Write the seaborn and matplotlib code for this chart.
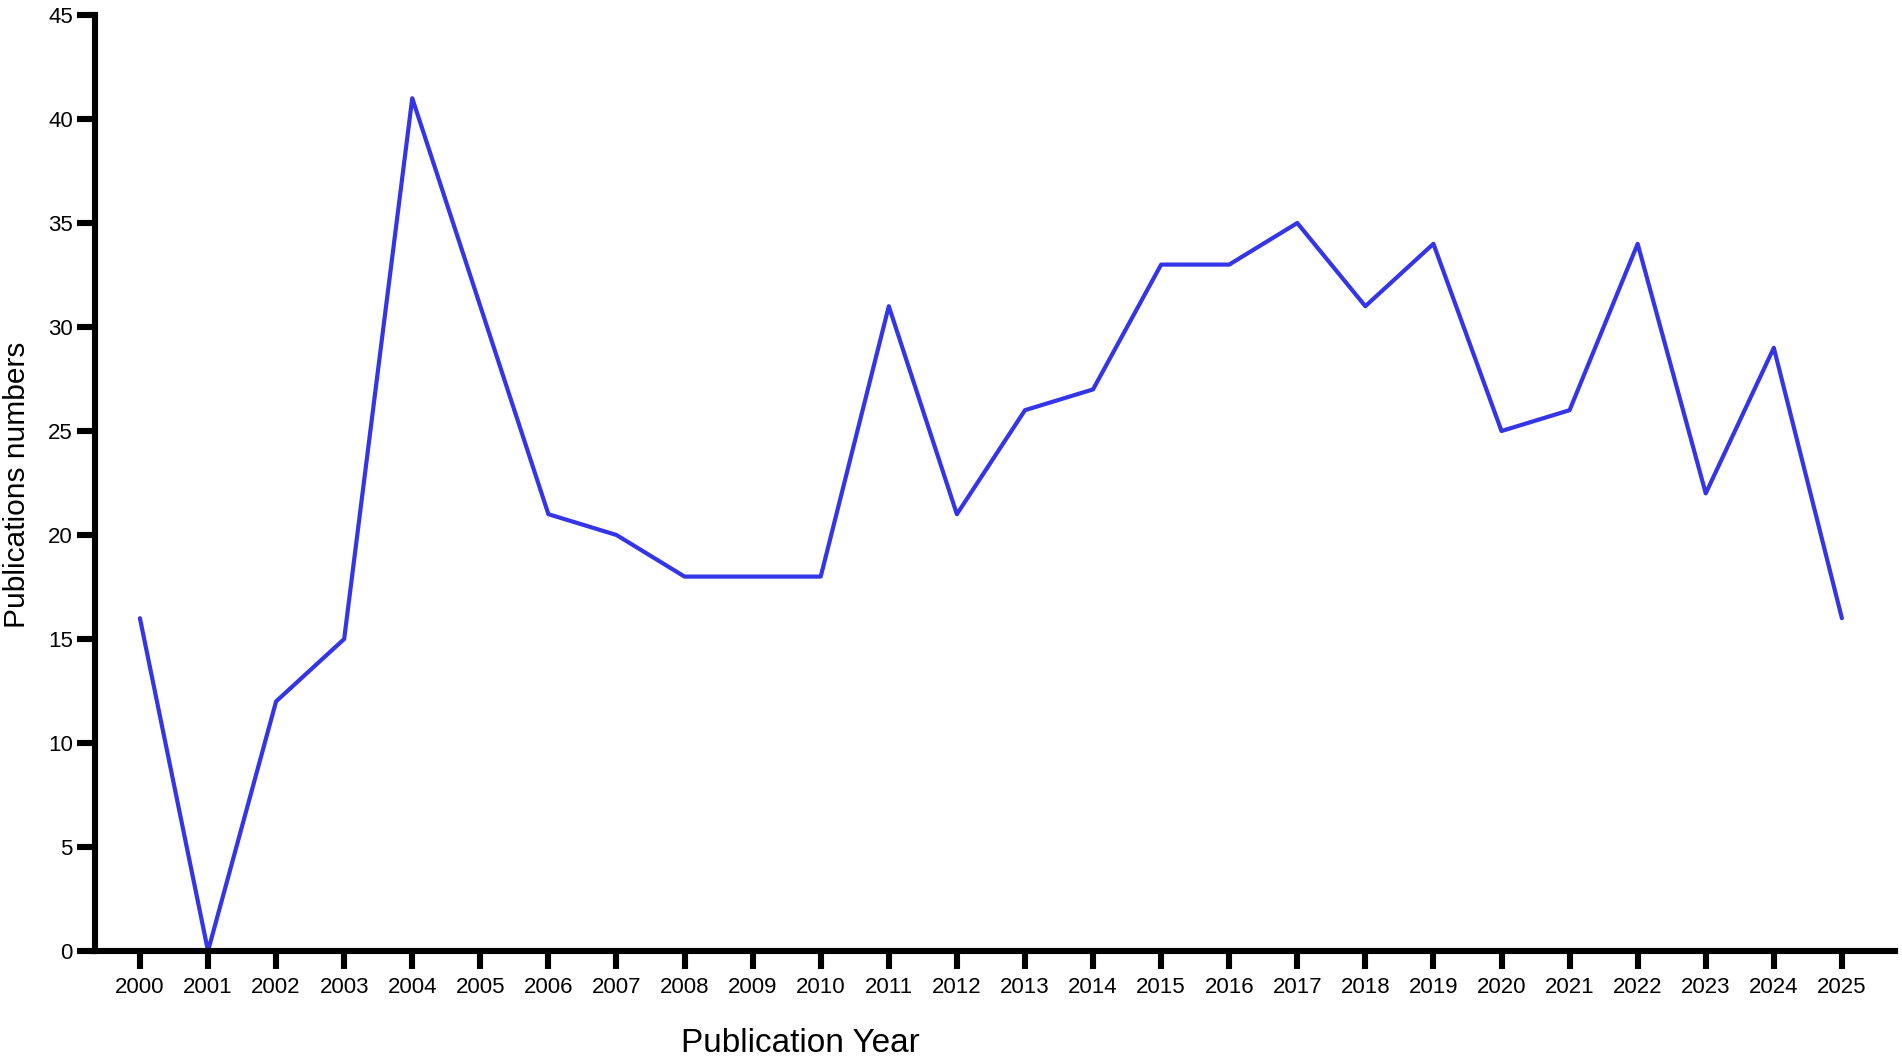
import matplotlib
matplotlib.use("Agg")
import matplotlib.pyplot as plt
import seaborn as sns
import pandas as pd

# Data
years = list(range(2000, 2026))
publications = [16, 0, 12, 15, 41, 31, 21, 20, 18, 18, 18, 31, 21, 26, 27,
                33, 33, 35, 31, 34, 25, 26, 34, 22, 29, 16]
y_ticks = [0, 5, 10, 15, 20, 25, 30, 35, 40, 45]

df = pd.DataFrame({"year": years, "count": publications})

sns.set_style("white")
plt.rcParams['font.family'] = ['Liberation Sans', 'DejaVu Sans']
plt.rcParams['text.color'] = 'black'

fig = plt.figure(figsize=(19.02, 10.61), dpi=100)
ax = fig.add_axes([95 / 1902, 110 / 1061, 1800 / 1902, 936 / 1061])

sns.lineplot(data=df, x="year", y="count", color="#3434e8", linewidth=3, ax=ax)

ax.set_xlim(1999.34, 2025.78)
ax.set_ylim(0, 45)
ax.set_xticks(years)
ax.set_xticklabels([str(y) for y in years])
ax.set_yticks(y_ticks)

for side in ["top", "right"]:
    ax.spines[side].set_visible(False)
for side in ["left", "bottom"]:
    ax.spines[side].set_linewidth(4.4)
    ax.spines[side].set_color("black")

ax.tick_params(axis="both", direction="out", length=13, width=4.4,
               color="black", labelcolor="black", labelsize=16,
               bottom=True, left=True)
ax.tick_params(axis="x", pad=6)
ax.tick_params(axis="y", pad=3)

ax.set_xlabel("")
ax.set_ylabel("")
fig.text(800 / 1902, 1 - 1043 / 1061, "Publication Year", fontsize=24,
         ha="center", va="center", color="black")
fig.text(17 / 1902, 1 - 485 / 1061, "Publications numbers", fontsize=21.5,
         ha="center", va="center", rotation=90, color="black")

fig.savefig("out.png", dpi=100)
